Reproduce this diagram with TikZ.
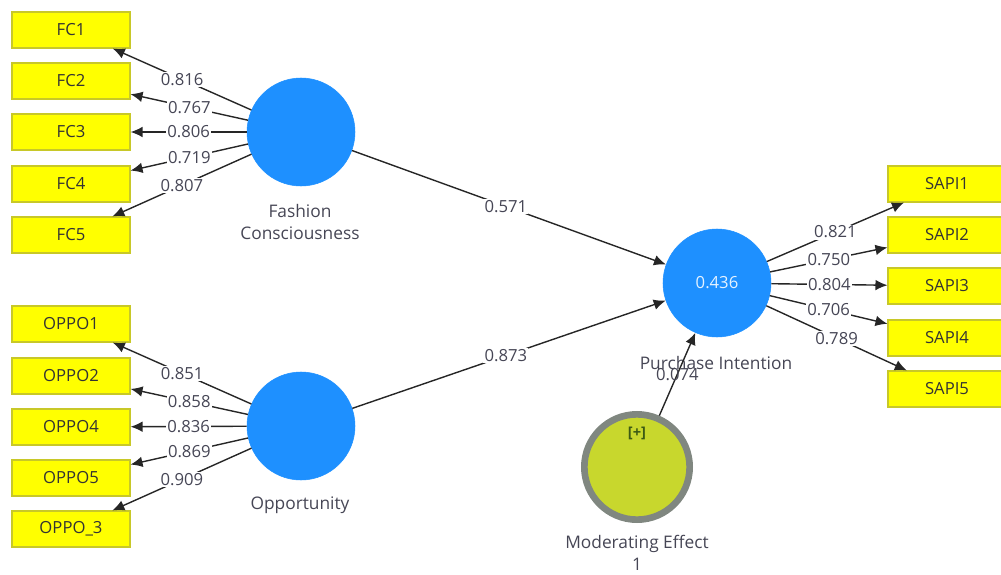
\documentclass[tikz,border=0pt]{standalone}
\usepackage{fontspec}
\setmainfont{Open Sans}
\usetikzlibrary{arrows.meta}
\definecolor{lvblue}{RGB}{30,144,255}
\definecolor{indyel}{RGB}{255,255,0}
\definecolor{indbord}{RGB}{200,200,40}
\definecolor{modfill}{RGB}{200,215,45}
\definecolor{modbord}{RGB}{128,135,128}
\definecolor{labgray}{RGB}{70,70,85}
\definecolor{plusgreen}{RGB}{60,90,20}
\tikzset{
  indbox/.style={draw=indbord, fill=indyel, line width=0.8pt, minimum width=88.5pt, minimum height=27pt, inner sep=0pt, font=\fontsize{12.5}{14}\selectfont, text=black!80},
  latent/.style={circle, fill=lvblue, draw=lvblue, minimum size=81pt, inner sep=0pt},
  modlatent/.style={circle, fill=modfill, draw=modbord, line width=5pt, minimum size=79pt, inner sep=0pt},
  lvname/.style={font=\fontsize{13}{16}\selectfont, text=labgray, align=center},
  conn/.style={draw=black!85, line width=1.05pt, -{Latex[length=9pt,width=8pt]}},
  wlab/.style={fill=white, inner sep=1pt, font=\fontsize{12.5}{14}\selectfont, text=labgray},
}
\begin{document}
\begin{tikzpicture}[x=0.75pt, y=-0.75pt]
\useasboundingbox (0,0) rectangle (1001,575);
\clip (0,0) rectangle (1001,575);
% indicator boxes
\node[indbox] (fc1) at (71,30) {FC1};
\node[indbox] (fc2) at (71,81) {FC2};
\node[indbox] (fc3) at (71,132) {FC3};
\node[indbox] (fc4) at (71,184) {FC4};
\node[indbox] (fc5) at (71,235) {FC5};
\node[indbox] (op1) at (71,324) {OPPO1};
\node[indbox] (op2) at (71,376) {OPPO2};
\node[indbox] (op4) at (71,427) {OPPO4};
\node[indbox] (op5) at (71,478) {OPPO5};
\node[indbox] (op3) at (71,529) {OPPO\_3};
\node[indbox] (sa1) at (947,184) {SAPI1};
\node[indbox] (sa2) at (947,235) {SAPI2};
\node[indbox] (sa3) at (947,286) {SAPI3};
\node[indbox] (sa4) at (947,338) {SAPI4};
\node[indbox] (sa5) at (947,389) {SAPI5};
% latent variables
\node[latent] (fc) at (301,132) {};
\node[latent] (op) at (301,426) {};
\node[latent, font=\fontsize{12.5}{14}\selectfont, text=white!88!lvblue] (pi) at (717,283) {0.436};
\node[modlatent] (me) at (637,467) {};
\node[font=\fontsize{11}{12}\selectfont\bfseries, text=plusgreen] (plus) at (637,433) {[+]};
% names
\node[lvname] (fcname) at (300,222) {Fashion\\Consciousness};
\node[lvname] (opname) at (300,505) {Opportunity};
\node[lvname] (piname) at (716,363) {Purchase Intention};
\node[lvname] (mename) at (637,553) {Moderating Effect\\1};
% outer loadings
\draw[conn] (fc) -- node[wlab, pos=0.5] {0.816} (fc1);
\draw[conn] (fc) -- node[wlab, pos=0.5] {0.767} (fc2);
\draw[conn] (fc) -- node[wlab, pos=0.5] {0.806} (fc3);
\draw[conn] (fc) -- node[wlab, pos=0.5] {0.719} (fc4);
\draw[conn] (fc) -- node[wlab, pos=0.5] {0.807} (fc5);
\draw[conn] (op) -- node[wlab, pos=0.5] {0.851} (op1);
\draw[conn] (op) -- node[wlab, pos=0.5] {0.858} (op2);
\draw[conn] (op) -- node[wlab, pos=0.5] {0.836} (op4);
\draw[conn] (op) -- node[wlab, pos=0.5] {0.869} (op5);
\draw[conn] (op) -- node[wlab, pos=0.5] {0.909} (op3);
\draw[conn] (pi) -- node[wlab, pos=0.5] {0.821} (sa1);
\draw[conn] (pi) -- node[wlab, pos=0.5] {0.750} (sa2);
\draw[conn] (pi) -- node[wlab, pos=0.5] {0.804} (sa3);
\draw[conn] (pi) -- node[wlab, pos=0.5] {0.706} (sa4);
\draw[conn] (pi) -- node[wlab, pos=0.5] {0.789} (sa5);
% paths
\draw[conn] (fc) -- node[wlab, pos=0.49] {0.571} (pi);
\draw[conn] (op) -- node[wlab, pos=0.49] {0.873} (pi);
\draw[conn] (me) -- node[wlab, fill=none, pos=0.5] {0.074} (pi);
\end{tikzpicture}
\end{document}
